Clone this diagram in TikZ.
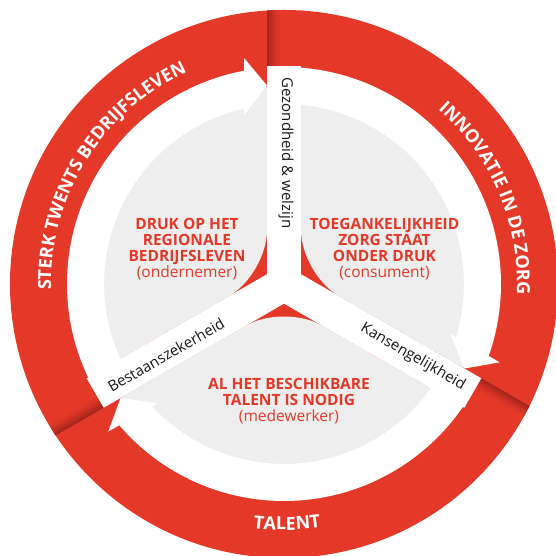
\documentclass[tikz,border=0pt]{standalone}
\usepackage{fontspec}
\setmainfont{Open Sans}
\usetikzlibrary{decorations.text,calc}
\definecolor{ringred}{RGB}{228,57,41}
\definecolor{darkred}{RGB}{168,36,28}
\definecolor{disc}{RGB}{238,238,238}
\definecolor{ink}{RGB}{25,25,25}
\newcommand\ringfont{\bfseries\fontsize{18}{18}\selectfont}
\begin{document}
\begin{tikzpicture}[x=1pt,y=1pt,
  lbl/.style={text=ringred, align=center, font=\bfseries\fontsize{15.5}{16}\selectfont, inner sep=0pt},
  spoketext/.style={text=ink, font=\fontsize{15}{15}\selectfont, inner sep=0pt},
  ringtext/.style={decorate, decoration={text along path, text align=center, text color=white, text={#1}}}]
\useasboundingbox (0,0) rectangle (556,556);
\clip (0,0) rectangle (556,556);
\fill[white] (0,0) rectangle (556,556);
\coordinate (C) at (284,272);
% red ring
\fill[ringred] (C) circle[radius=274];
% folds between ring segments
\begin{scope}[shift={(C)}]
  \clip (0,0) circle[radius=274];
  \foreach \a in {0,120,240}{
    \foreach \i/\p in {0/0,1/22,2/42,3/60,4/76,5/90}{
      \fill[ringred!\p!darkred, rotate=\a] (-17+2*\i,150) rectangle (-14.5+2*\i,290);
    }
  }
\end{scope}
% grey sectors
\begin{scope}[shift={(C)}]
  \clip (0,0) circle[radius=198];
  \foreach \a in {0,120,240}
    \fill[disc, rounded corners=44pt, rotate=\a] (0,-19.63) -- (-346.4,-219.6) -- (0,-600) -- (346.4,-219.6) -- cycle;
\end{scope}
% spokes and arrows
\begin{scope}[shift={(C)}]
  \foreach \a in {90,210,330}
    \draw[white, line width=34pt] (0,0) -- (\a:218);
  \foreach \a in {0,120,240}
    \fill[white, rotate=\a] (-40,226) -- (-17,198.5) -- (-40,169) -- (102.84:180)
      arc[start angle=102.84, end angle=210, radius=180] -- (210:217)
      arc[start angle=210, end angle=100.62, radius=217] -- cycle;
\end{scope}
% ring texts
\path[ringtext={|\ringfont|STERK TWENTS BEDRIJFSLEVEN}] ($(C)+(200:233)$) arc[start angle=200, end angle=96, radius=233];
\path[ringtext={|\ringfont|INNOVATIE IN DE ZORG}] ($(C)+(75:233)$) arc[start angle=75, end angle=-29, radius=233];
\path[ringtext={|\ringfont|TALENT}] ($(C)+(240:246)$) arc[start angle=240, end angle=301.4, radius=246];
% spoke texts
\node[spoketext, rotate=-90] (gez) at ($(C)+(2,131)$) {Gezondheid \& welzijn};
\node[spoketext, rotate=30] (best) at ($(C)+(-118,-71)$) {Bestaanszekerheid};
\node[spoketext, rotate=-30] (kans) at ($(C)+(129,-73)$) {Kansengelijkheid};
% centre labels
\node[lbl] (druk) at (187,307) {DRUK OP HET\\REGIONALE\\BEDRIJFSLEVEN\\{\mdseries(ondernemer)}};
\node[lbl] (toeg) at (384.5,307) {TOEGANKELIJKHEID\\ZORG STAAT\\ONDER DRUK\\{\mdseries(consument)}};
\node[lbl] (talent) at (289,155) {AL HET BESCHIKBARE\\TALENT IS NODIG\\{\mdseries(medewerker)}};
\end{tikzpicture}
\end{document}
